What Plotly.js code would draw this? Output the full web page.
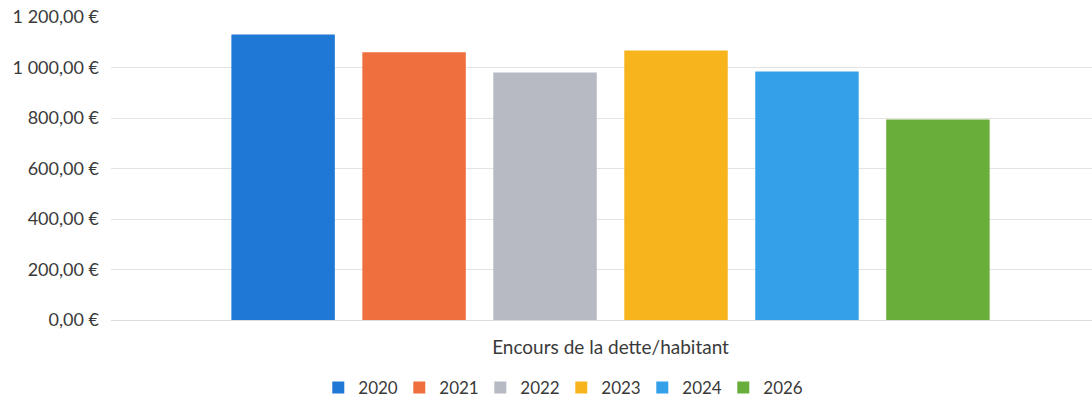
<!DOCTYPE html>
<html>
<head>
<meta charset="utf-8">
<script src="https://cdn.plot.ly/plotly-3.0.1.min.js"></script>
<style>html,body{margin:0;padding:0;background:#fff;}#chart{width:1092px;height:404px;}</style>
</head>
<body>
<div id="chart"></div>
<script>
const category = ["Encours de la dette/habitant"];
const years = ["2020", "2021", "2022", "2023", "2024", "2026"];
const values = [1131, 1060, 980, 1067, 984, 794];
const colors = ["#1f78d5", "#ef6f3e", "#b7bac3", "#f7b41c", "#34a0e9", "#69ad3a"];
const yTicks = [0, 200, 400, 600, 800, 1000, 1200];
const yTickLabels = ["0,00 \u20ac", "200,00 \u20ac", "400,00 \u20ac", "600,00 \u20ac", "800,00 \u20ac", "1 000,00 \u20ac", "1 200,00 \u20ac"];

const traces = years.map((yr, i) => ({
  type: "bar",
  name: yr,
  x: category,
  y: [values[i]],
  marker: {color: colors[i]},
  hoverinfo: "name+y"
}));

const layout = {
  width: 1092,
  height: 404,
  margin: {l: 111, r: 0, t: 17, b: 84, pad: 0},
  paper_bgcolor: "#ffffff",
  plot_bgcolor: "#ffffff",
  font: {family: "Lato, 'Open Sans', sans-serif", color: "#3a3a3a", size: 13},
  barmode: "group",
  bargap: 0.199,
  bargroupgap: 0.21,
  xaxis: {
    type: "category",
    range: [-0.5092, 0.4908],
    showgrid: false,
    showline: false,
    zeroline: false,
    ticks: "",
    tickfont: {size: 19, color: "#3a3a3a"},
    ticklabelstandoff: 14
  },
  yaxis: {
    range: [0, 1200],
    tickmode: "array",
    tickvals: yTicks,
    ticktext: yTickLabels,
    showgrid: true,
    gridcolor: "#e3e3e3",
    gridwidth: 1,
    zeroline: true,
    zerolinecolor: "#dcdcdc",
    zerolinewidth: 1,
    showline: false,
    ticks: "",
    ticklabelstandoff: 11,
    tickfont: {size: 18, color: "#3a3a3a"}
  },
  showlegend: true,
  legend: {
    orientation: "h",
    xref: "container",
    yref: "container",
    x: 0.514,
    xanchor: "center",
    y: 0.04,
    yanchor: "middle",
    font: {size: 17, color: "#3a3a3a"},
    itemwidth: 30,
    entrywidth: 36,
    entrywidthmode: "pixels",
    tracegroupgap: 0
  }
};

Plotly.newPlot("chart", traces, layout, {displayModeBar: false, staticPlot: true});
</script>
</body>
</html>
